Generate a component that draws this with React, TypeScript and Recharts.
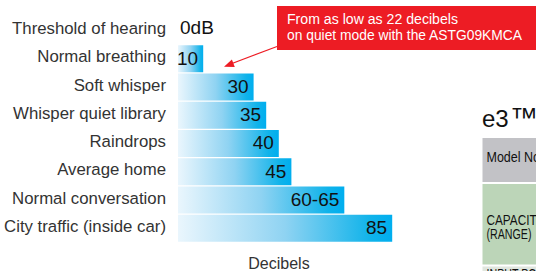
import React from 'react';
import { BarChart, Bar, XAxis, YAxis, LabelList, Cell } from 'recharts';

// sound levels, top to bottom
const categories = [
  'Threshold of hearing',
  'Normal breathing',
  'Soft whisper',
  'Whisper quiet library',
  'Raindrops',
  'Average home',
  'Normal conversation',
  'City traffic (inside car)'
];
const decibels = [0, 10, 30, 35, 40, 45, 66, 85];
const valueLabels = ['0dB', '10', '30', '35', '40', '45', '60-65', '85'];

const calloutLines = ['From as low as 22 decibels', 'on quiet mode with the ASTG09KMCA'];
const calloutWidths = [171, 235];

const rows = categories.map((name, i) => ({ name, db: decibels[i], label: valueLabels[i] }));

const FONT = '"Liberation Sans", Arial, Helvetica, sans-serif';
const RED = '#ed1c24';

const renderValue = (props: any) => {
  const { x, y, width, height, value, index } = props;
  const isZero = decibels[index] === 0;
  return (
    <text
      x={isZero ? x + 2 : x + width - 5}
      y={y + height / 2 + (isZero ? -3 : -1)}
      dy="0.36em"
      textAnchor={isZero ? 'start' : 'end'}
      fontSize={19}
      fontFamily={FONT}
      fill="#111"
    >
      {value}
    </text>
  );
};

function Annotations() {
  return (
    <svg
      width={536}
      height={271}
      style={{ position: 'absolute', left: 0, top: 0, pointerEvents: 'none' }}
    >
      {/* red callout */}
      <rect x={277} y={6} width={270} height={44} fill={RED} />
      {calloutLines.map((t, i) => (
        <text
          key={t}
          x={287}
          y={24 + i * 16}
          fontSize={15.5}
          fontFamily={FONT}
          textLength={calloutWidths[i]}
          lengthAdjust="spacingAndGlyphs"
          fill="#fff"
        >
          {t}
        </text>
      ))}
      <line x1={277} y1={46.5} x2={232} y2={63.5} stroke={RED} strokeWidth={1.2} />
      <polygon points="224,66.7 234.8,66.9 231.9,59.4" fill={RED} />

      {/* spec table peeking in on the right */}
      <text x={482} y={127} fontSize={24} fontFamily={FONT} fill="#111">
        e3<tspan fontSize={28} dx={1}>™</tspan>
      </text>
      <rect x={482.5} y={138} width={60} height={44} fill="#c2c2c6" />
      <text
        x={486.5}
        y={161.5}
        fontSize={14}
        fontFamily={FONT}
        textLength={57}
        lengthAdjust="spacingAndGlyphs"
        fill="#111"
      >
        Model No.
      </text>
      <rect x={482.5} y={184} width={60} height={80.5} fill="#bcd5b8" />
      <text
        x={486.5}
        y={225}
        fontSize={15}
        fontFamily={FONT}
        textLength={58}
        lengthAdjust="spacingAndGlyphs"
        fill="#111"
      >
        CAPACITY
      </text>
      <text
        x={486.5}
        y={239}
        fontSize={15}
        fontFamily={FONT}
        textLength={45}
        lengthAdjust="spacingAndGlyphs"
        fill="#111"
      >
        (RANGE)
      </text>
      <rect x={482.5} y={266.5} width={60} height={10} fill="#e0e6de" />
      <text
        x={486.5}
        y={278.5}
        fontSize={14}
        fontFamily={FONT}
        textLength={75}
        lengthAdjust="spacingAndGlyphs"
        fill="#111"
      >
        INPUT POWER
      </text>
    </svg>
  );
}

export default function App() {
  return (
    <div
      style={{
        position: 'absolute',
        left: 0,
        top: 0,
        width: 536,
        height: 271,
        overflow: 'hidden',
        background: '#fff',
        fontFamily: FONT
      }}
    >
      <BarChart
        width={536}
        height={271}
        data={rows}
        layout="vertical"
        margin={{ top: 16, right: 106, bottom: 0, left: 0 }}
      >
        <defs>
          <linearGradient id="barFade" x1="0" y1="0" x2="1" y2="0">
            <stop offset="0%" stopColor="#eaf6fd" />
            <stop offset="50%" stopColor="#8fd3f2" />
            <stop offset="90%" stopColor="#10b3ea" />
            <stop offset="100%" stopColor="#00aeef" />
          </linearGradient>
        </defs>
        <XAxis
          type="number"
          domain={[0, 100]}
          height={29}
          tick={false}
          tickLine={false}
          axisLine={false}
          label={{
            value: 'Decibels',
            position: 'insideBottom',
            offset: 2,
            dx: -25,
            fill: '#333',
            fontSize: 16,
            fontFamily: FONT
          }}
        />
        <YAxis
          type="category"
          dataKey="name"
          width={178}
          interval={0}
          tickLine={false}
          axisLine={false}
          tickSize={0}
          tickMargin={12}
          tick={{ fill: '#333', fontSize: 16.8, fontFamily: FONT, dy: -2 }}
        />
        <Bar dataKey="db" barSize={27} minPointSize={1} isAnimationActive={false}>
          {decibels.map((v, i) => (
            <Cell key={i} fill={v === 0 ? 'transparent' : 'url(#barFade)'} />
          ))}
          <LabelList dataKey="label" content={renderValue} />
        </Bar>
      </BarChart>
      <Annotations />
    </div>
  );
}
